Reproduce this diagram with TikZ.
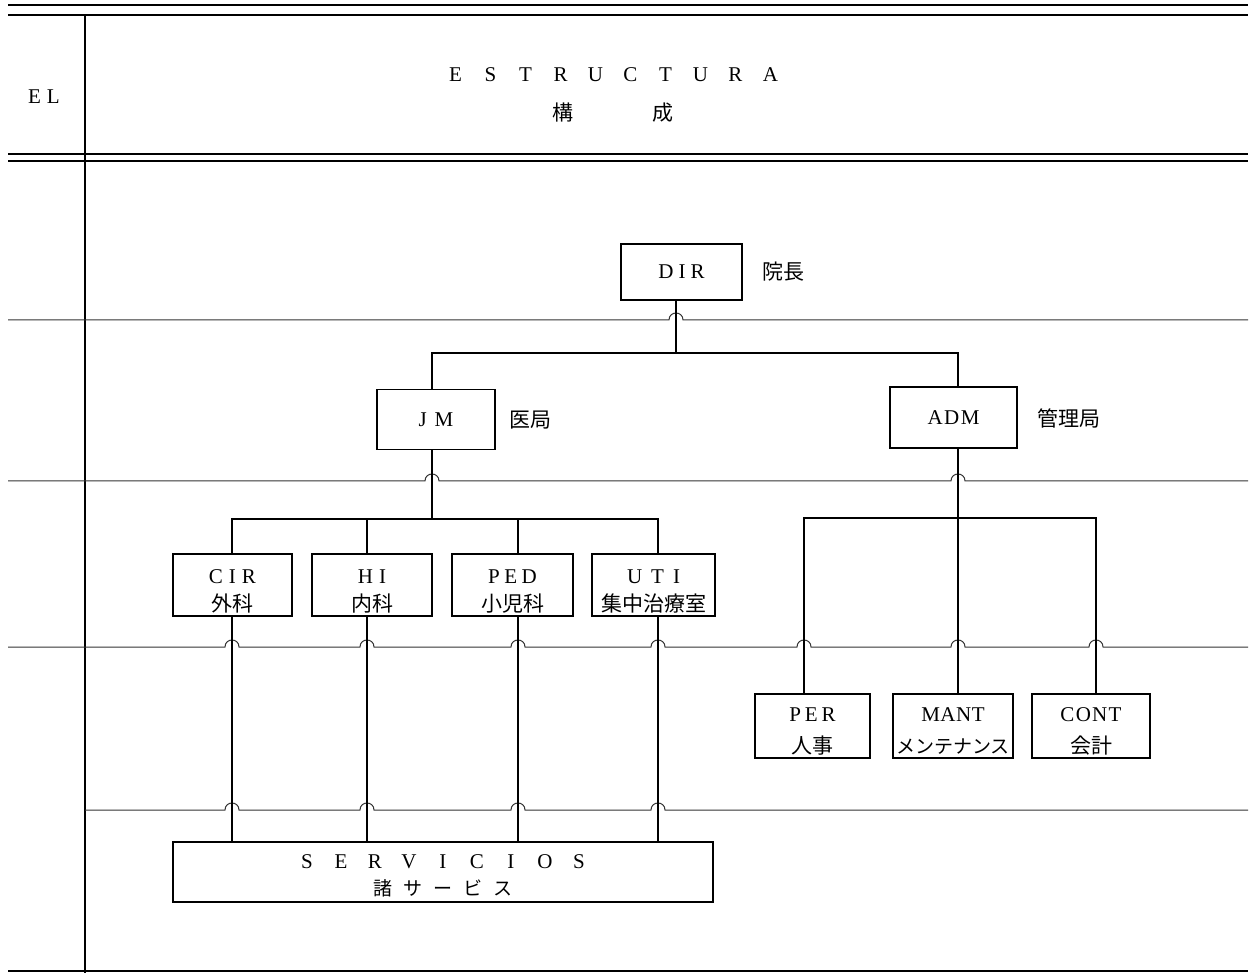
\documentclass[tikz,border=0pt]{standalone}
\usepackage{fontspec}
\setmainfont{Liberation Serif}
\newfontfamily\jpfont{Noto Sans CJK JP}
\newcommand\wbox[2]{\makebox[#1pt]{#2}}
\begin{document}
\begin{tikzpicture}[x=1pt,y=-1pt,
  box/.style={draw,line width=1.5pt,inner sep=0pt,align=center,font=\fontsize{21}{23}\selectfont},
  lat/.style={inner sep=0pt,font=\fontsize{21}{23}\selectfont},
  jp/.style={inner sep=0pt,font=\jpfont\fontsize{21}{24}\selectfont},
  conn/.style={line width=1.5pt},
  level/.style={line width=1pt,black!80},
  rulel/.style={line width=1.4pt}]
\useasboundingbox (0,0) rectangle (1251,973);
% frame rules
\draw[rulel] (8,5) -- (1248,5);
\draw[rulel] (8,15) -- (1248,15);
\draw[rulel] (8,154) -- (1248,154);
\draw[rulel] (8,161) -- (1248,161);
\draw[rulel] (8,971) -- (1248,971);
\draw[conn] (85,15) -- (85,973);
% header texts
\node[lat,anchor=base] (el) at (44,104) {E\kern6pt L};
\node[lat,anchor=base] (estr) at (613,82) {\wbox{35}{E}\wbox{35}{S}\wbox{35}{T}\wbox{35}{R}\wbox{35}{U}\wbox{35}{C}\wbox{35}{T}\wbox{35}{U}\wbox{35}{R}\wbox{35}{A}};
\node[jp,anchor=base] (kosei) at (613,121) {\wbox{100}{構}\wbox{100}{成}};
% level lines with hops
\draw[level] (8,320) foreach \x in {676} { -- (\x-7,320) .. controls (\x-7,310.7) and (\x+7,310.7) .. (\x+7,320) } -- (1248,320);
\draw[level] (8,481) foreach \x in {432,958} { -- (\x-7,481) .. controls (\x-7,471.7) and (\x+7,471.7) .. (\x+7,481) } -- (1248,481);
\draw[level] (8,647) foreach \x in {232,367,518,658,804,958,1096} { -- (\x-7,647) .. controls (\x-7,637.7) and (\x+7,637.7) .. (\x+7,647) } -- (1248,647);
\draw[level] (85,810) foreach \x in {232,367,518,658} { -- (\x-7,810) .. controls (\x-7,800.7) and (\x+7,800.7) .. (\x+7,810) } -- (1248,810);
% boxes
\node[box,minimum width=121pt,minimum height=56pt] (dir) at (681.5,272) {D\kern5pt I\kern5pt R};
\node[jp,anchor=west] (dirj) at (762,272) {院長};
\node[box,minimum width=118pt,minimum height=60pt] (jm) at (436,419.5) {J\kern8pt M};
\node[jp,anchor=west] (jmj) at (509,420) {医局};
\node[box,minimum width=127pt,minimum height=61pt] (adm) at (953.5,417.5) {A\kern1.5pt D\kern1.5pt M};
\node[jp,anchor=west] (admj) at (1037,418) {管理局};
\foreach \n/\cx/\w/\la/\lb in {cir/232.5/119/C\kern6pt I\kern6pt R/外科, hi/372/120/H\kern6pt I/内科, ped/512.5/121/P\kern4.5pt E\kern4.5pt D/小児科, uti/653.5/123/U\kern9pt T\kern9pt I/集中治療室}{
  \node[box,minimum width=\w pt,minimum height=62pt] (\n) at (\cx,585) {};
  \node[lat,anchor=base,yshift=2pt] (\n a) at (\n.center) {\la};
  \node[jp,anchor=base,yshift=-26pt] (\n b) at (\n.center) {\lb};
}
\foreach \n/\cx/\w/\la/\lb in {per/812.5/115/P\kern4pt E\kern4pt R/人事, cont/1091/118/C\kern1.3pt O\kern1.3pt N\kern1.3pt T/会計}{
  \node[box,minimum width=\w pt,minimum height=64pt] (\n) at (\cx,726) {};
  \node[lat,anchor=base,yshift=5pt] (\n a) at (\n.center) {\la};
  \node[jp,anchor=base,yshift=-27pt] (\n b) at (\n.center) {\lb};
}
\node[box,minimum width=120pt,minimum height=64pt] (mant) at (953,726) {};
\node[lat,anchor=base,yshift=5pt] (manta) at (mant.center) {M\kern0.5pt A\kern0.5pt N\kern0.5pt T};
\node[jp,anchor=base,yshift=-27pt,font=\jpfont\fontsize{19}{22}\selectfont] (mantb) at (mant.center) {メンテナンス};
\node[box,minimum width=540pt,minimum height=60pt] (serv) at (443,872) {};
\node[lat,anchor=base,yshift=4pt] (serva) at (serv.center) {\wbox{34}{S}\wbox{34}{E}\wbox{34}{R}\wbox{34}{V}\wbox{34}{I}\wbox{34}{C}\wbox{34}{I}\wbox{34}{O}\wbox{34}{S}};
\node[jp,anchor=base,yshift=-23pt,font=\jpfont\fontsize{19}{22}\selectfont] (servb) at (serv.center) {\wbox{30}{諸}\wbox{30}{サ}\wbox{30}{ー}\wbox{30}{ビ}\wbox{30}{ス}};
% connectors
\coordinate (b1l) at (432,353);
\coordinate (b1r) at (958,353);
\coordinate (b1m) at (676,353);
\draw[conn] (b1m |- dir.south) -- (b1m);
\draw[conn] (b1l |- jm.north) -- (b1l) -- (b1r) -- (b1r |- adm.north);
\coordinate (b2m) at (432,519);
\coordinate (b2l) at (232,519);
\coordinate (b2r) at (658,519);
\coordinate (hix) at (367,519);
\coordinate (pedx) at (518,519);
\draw[conn] (b2m |- jm.south) -- (b2m);
\draw[conn] (b2l |- cir.north) -- (b2l) -- (b2r) -- (b2r |- uti.north);
\draw[conn] (hix) -- (hix |- hi.north);
\draw[conn] (pedx) -- (pedx |- ped.north);
\foreach \c/\n in {b2l/cir,hix/hi,pedx/ped,b2r/uti}{
  \draw[conn] (\c |- \n.south) -- (\c |- serv.north);
}
\coordinate (b3l) at (804,518);
\coordinate (b3m) at (958,518);
\coordinate (b3r) at (1096,518);
\draw[conn] (b3m |- adm.south) -- (b3m |- mant.north);
\draw[conn] (b3l |- per.north) -- (b3l) -- (b3r) -- (b3r |- cont.north);
\end{tikzpicture}
\end{document}
